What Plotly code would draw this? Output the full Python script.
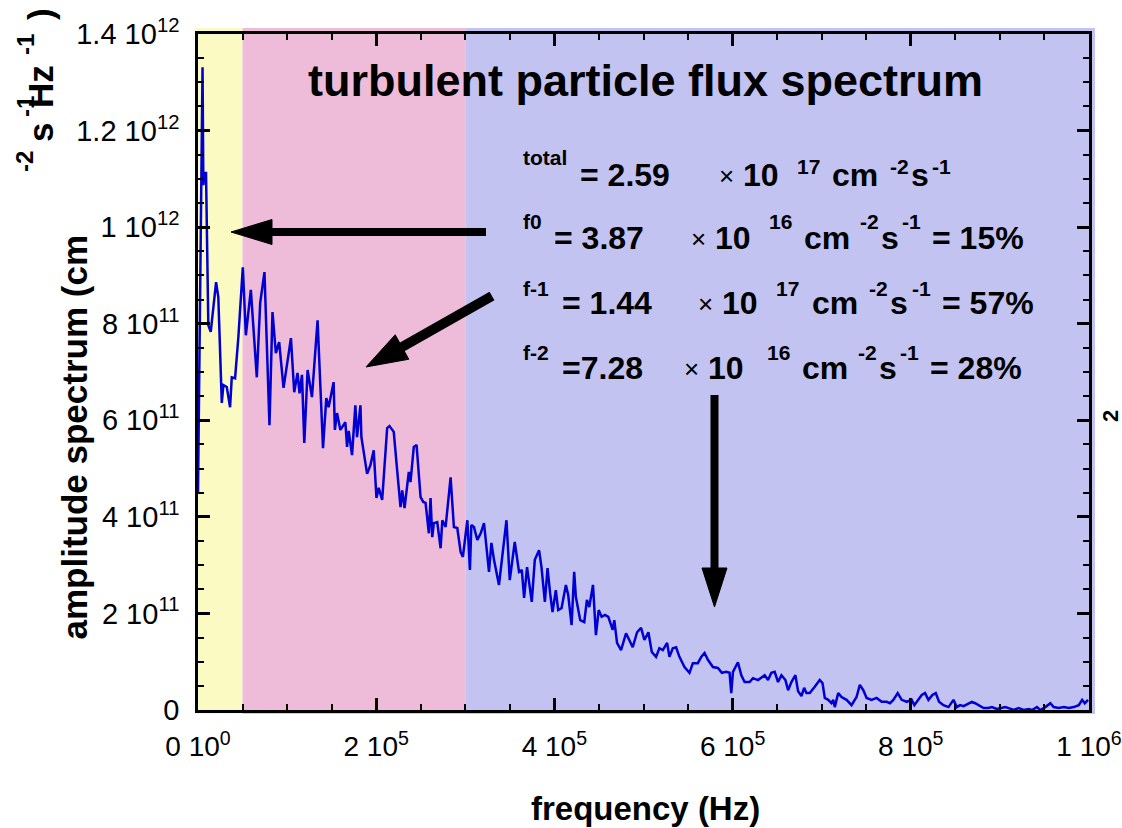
import plotly.graph_objects as go

# ---------------- data ----------------
freq_khz = [
    0, 5.1, 6.0, 7.3, 9.0, 11.6, 14.3, 20.3, 22.8, 26.7,
    28.5, 32.3, 36.0, 37.9, 41.6, 45.3, 50.3, 53.7, 59.3, 66.0,
    69.8, 74.6, 80.2, 83.6, 87.4, 91.1, 96.0, 104.3, 108.0, 111.7,
    114.0, 116.7, 119.3, 123.0, 127.9, 134.2, 140.3, 144.0, 146.6, 152.2,
    153.6, 156.0, 159.8, 165.4, 167.3, 169.1, 172.9, 176.6, 178.5, 182.3,
    183.4, 189.8, 193.5, 197.2, 200.3, 202.8, 206.7, 212.3, 214.9, 219.7,
    223.5, 227.3, 229.2, 231.8, 236.6, 238.5, 242.2, 245.3, 249.8, 252.8,
    255.4, 259.1, 261.0, 262.9, 264.7, 268.5, 272.3, 274.2, 277.9, 283.5,
    287.2, 291.0, 294.8, 297.3, 302.3, 305.2, 306.8, 309.7, 313.5, 317.3,
    321.0, 326.6, 329.3, 332.2, 337.8, 346.2, 349.9, 355.5, 360.3, 363.4,
    366.0, 369.3, 374.6, 378.0, 382.8, 385.5, 389.3, 392.3, 395.2, 397.9,
    401.6, 404.2, 408.0, 412.9, 415.5, 419.3, 422.2, 424.1, 429.0, 433.5,
    436.5, 439.1, 443.3, 446.6, 449.7, 453.0, 456.8, 460.5, 465.4, 467.2,
    470.3, 474.8, 480.4, 484.1, 487.9, 492.8, 497.3, 501.0, 505.5, 509.3,
    514.1, 517.8, 521.7, 526.5, 529.1, 532.9, 536.6, 540.3, 546.0, 551.6,
    555.4, 561.0, 564.8, 568.5, 572.3, 577.9, 583.5, 588.0, 592.9, 596.6,
    598.5, 600.4, 606.0, 609.8, 613.5, 619.1, 622.9, 628.5, 632.3, 636.0,
    639.8, 643.5, 647.2, 651.0, 654.8, 659.3, 662.3, 666.0, 670.5, 673.5,
    677.3, 680.3, 682.9, 686.6, 692.2, 697.8, 700.9, 703.5, 707.3, 711.0,
    712.9, 714.7, 718.5, 722.3, 727.9, 733.5, 739.1, 742.8, 746.7, 750.4,
    756.0, 761.6, 767.3, 772.9, 776.6, 780.4, 785.3, 789.8, 795.4, 801.0,
    804.0, 808.5, 812.3, 816.0, 819.8, 824.3, 828.0, 831.7, 836.7, 842.3,
    847.9, 851.6, 855.3, 859.2, 864.8, 868.5, 872.2, 876.0, 881.7, 887.3,
    891.0, 896.6, 902.3, 906.0, 909.8, 915.4, 921.0, 926.7, 932.3, 936.0,
    941.6, 945.3, 951.0, 956.6, 960.4, 966.0, 971.7, 977.3, 982.9, 988.5,
    992.3, 995.3, 999.0,
]
amp_e11 = [
    4.51, 13.31, 10.87, 11.12, 11.12, 7.97, 7.83, 8.86, 8.55, 6.36,
    6.73, 6.69, 6.27, 6.89, 6.87, 7.72, 9.17, 7.76, 8.70, 6.89,
    8.43, 9.07, 5.90, 8.24, 7.39, 7.62, 6.67, 7.70, 6.58, 6.98,
    6.56, 6.94, 5.53, 7.04, 6.48, 8.07, 5.42, 6.46, 6.27, 6.79,
    5.80, 6.15, 5.80, 5.96, 5.45, 5.78, 5.28, 6.31, 5.65, 6.31,
    5.65, 4.89, 5.07, 5.38, 4.39, 4.60, 4.35, 5.84, 5.88, 5.76,
    4.97, 4.20, 4.55, 4.18, 4.93, 4.72, 5.45, 5.49, 4.41, 4.31,
    4.29, 3.66, 4.39, 3.58, 3.87, 3.89, 3.35, 3.93, 3.79, 4.82,
    3.79, 3.77, 3.27, 3.17, 3.93, 2.90, 3.83, 3.79, 3.52, 3.66,
    3.87, 2.86, 3.46, 3.11, 2.59, 3.93, 2.69, 3.48, 2.86, 2.90,
    2.32, 2.96, 2.24, 3.11, 3.31, 2.96, 2.24, 2.94, 2.42, 2.03,
    2.48, 2.07, 2.11, 2.59, 2.38, 1.76, 2.86, 2.34, 1.86, 1.82,
    2.28, 2.13, 2.59, 1.55, 2.07, 1.93, 1.97, 1.93, 1.66, 1.86,
    1.39, 1.24, 1.59, 1.45, 1.30, 1.61, 1.70, 1.45, 1.61, 1.20,
    1.10, 1.28, 1.24, 1.39, 1.10, 1.28, 1.30, 1.10, 0.89, 0.77,
    0.97, 0.97, 1.10, 1.18, 1.04, 0.89, 0.87, 0.77, 0.79, 0.77,
    0.35, 0.79, 0.99, 0.72, 0.58, 0.58, 0.66, 0.62, 0.68, 0.72,
    0.62, 0.77, 0.79, 0.58, 0.72, 0.62, 0.41, 0.58, 0.72, 0.39,
    0.29, 0.46, 0.35, 0.35, 0.48, 0.62, 0.56, 0.25, 0.21, 0.14,
    0.21, 0.06, 0.35, 0.27, 0.21, 0.10, 0.27, 0.52, 0.41, 0.25,
    0.21, 0.25, 0.17, 0.17, 0.14, 0.21, 0.35, 0.21, 0.17, 0.21,
    0.10, 0.21, 0.31, 0.35, 0.21, 0.31, 0.35, 0.17, 0.10, 0.06,
    0.21, 0.06, 0.10, 0.08, 0.14, 0.17, 0.14, 0.10, 0.04, 0.04,
    0.06, 0.02, 0.04, 0.06, 0.04, 0.00, 0.04, 0.00, 0.02, 0.00,
    0.06, 0.00, 0.06, 0.14, 0.06, 0.04, 0.06, 0.04, 0.06, 0.10,
    0.21, 0.14, 0.21,
]

x_tick_vals = [0, 2e5, 4e5, 6e5, 8e5, 1e6]
x_tick_text = ["0 10<sup>0</sup>", "2 10<sup>5</sup>", "4 10<sup>5</sup>",
               "6 10<sup>5</sup>", "8 10<sup>5</sup>", "1 10<sup>6</sup>"]
x_minor_vals = [5e4 * k for k in range(21)]
y_tick_vals = [0, 2e11, 4e11, 6e11, 8e11, 1e12, 1.2e12, 1.4e12]
y_tick_text = ["0", "2 10<sup>11</sup>", "4 10<sup>11</sup>", "6 10<sup>11</sup>",
               "8 10<sup>11</sup>", "1 10<sup>12</sup>", "1.2 10<sup>12</sup>",
               "1.4 10<sup>12</sup>"]
y_minor_vals = [5e10 * k for k in range(29)]

band_edges_hz = [0, 5e4, 3e5, 1e6]
band_colors = ["#FAFAC2", "#EEBCD8", "#C3C3F2"]

flux_labels = ["total", "f0", "f-1", "f-2"]
flux_values = ["= 2.59", "= 3.87", "= 1.44", "=7.28"]
flux_exps = ["17", "16", "17", "16"]
flux_pcts = ["", "= 15%", "= 57%", "= 28%"]

title_text = "turbulent particle flux spectrum"
x_title = "frequency (Hz)"
y_title_main = "amplitude spectrum (cm"
# remaining unit pieces of the y title: (text, is_superscript)
y_title_units = [("-2", True), ("s", False), ("-1", True), ("Hz", False),
                 ("-1", True), (")", False)]

# ---------------- layout helpers ----------------
W, H = 1122, 828
L, R, T, B = 198, 1089, 34, 710
PW, PH = R - L, B - T
FONT = "Liberation Sans, Arial, sans-serif"


def px(x):
    return (x - L) / PW


def py(y):
    return (B - y) / PH


freq_hz = [f * 1e3 for f in freq_khz]
amp = [a * 1e11 for a in amp_e11]

fig = go.Figure()
fig.add_trace(go.Scatter(x=freq_hz, y=amp, mode="lines",
                         line=dict(color="#0000D2", width=2.5),
                         showlegend=False, hoverinfo="skip"))

shapes = []
for i, c in enumerate(band_colors):
    x0 = band_edges_hz[i] / 1e6
    x1 = band_edges_hz[i + 1] / 1e6
    if i == 0:
        x0 = px(195)
    if i == len(band_colors) - 1:
        x1 = px(1095)
    shapes.append(dict(type="rect", xref="paper", yref="paper", x0=x0, x1=x1,
                       y0=py(714), y1=py(28), fillcolor=c, line=dict(width=0),
                       layer="below"))


# arrows (shaft + triangular head) in pixel positions
def arrow(tail, base, tip, half, width=8):
    (tx, ty), (bx, by), (hx, hy) = tail, base, tip
    dx, dy = hx - bx, hy - by
    n = (dx * dx + dy * dy) ** 0.5
    nx, ny = -dy / n, dx / n
    shapes.append(dict(type="line", xref="paper", yref="paper",
                       x0=px(tx), y0=py(ty), x1=px(bx), y1=py(by),
                       line=dict(color="black", width=width), layer="above"))
    p1 = (bx + nx * half, by + ny * half)
    p2 = (bx - nx * half, by - ny * half)
    path = "M {:.5f},{:.5f} L {:.5f},{:.5f} L {:.5f},{:.5f} Z".format(
        px(hx), py(hy), px(p1[0]), py(p1[1]), px(p2[0]), py(p2[1]))
    shapes.append(dict(type="path", xref="paper", yref="paper", path=path,
                       fillcolor="black", line=dict(color="black", width=1),
                       layer="above"))


arrow((486, 232), (272, 232), (231, 232), 12.5)
arrow((492, 296), (402, 347), (366, 367), 14, width=10)
arrow((714.5, 395), (714.5, 568), (714.5, 607), 12.5)

ann = []


def text(x, y, s, size, bold=True, xanchor="left", yanchor="middle", angle=0):
    ann.append(dict(xref="paper", yref="paper", x=px(x), y=py(y),
                    text=("<b>%s</b>" % s) if bold else s, showarrow=False,
                    xanchor=xanchor, yanchor=yanchor, textangle=angle,
                    font=dict(family=FONT, size=size, color="black")))


text(645, 80, title_text, 45, xanchor="center")
text(645, 808, x_title, 33, xanchor="center")
text(74, 642, y_title_main, 35, xanchor="center", yanchor="bottom", angle=-90)
unit_y = [162, 133, 107, 87, 45, 14]
for (s, sup), yy in zip(y_title_units, unit_y):
    if sup:
        text(25, yy, s, 24, xanchor="center", angle=-90)
    else:
        text(40, yy, s, 35, xanchor="center", angle=-90)
text(1110, 416, "2", 22, xanchor="center", angle=-90)

# flux lines: piece positions (pixels)
row_y = [175, 238, 303, 368]
lab_y = [157, 222, 288, 352]
exp_y = [166, 222, 288, 352]
val_x = [578, 552, 560, 560]
times_x = [717, 689, 696, 682]
ten_x = [741, 713, 720, 706]
exp_x = [795, 767, 774, 765]
cm_x = [830, 802, 810, 800]
m2_x = [888, 858, 867, 856]
s_x = [909, 879, 888, 877]
m1_x = [930, 900, 910, 898]
pct_x = [0, 930, 940, 928]
for i in range(4):
    y = row_y[i]
    text(521, lab_y[i], flux_labels[i], 21)
    text(val_x[i], y, flux_values[i], 32)
    text(times_x[i], y + 1, "×", 26, bold=False)
    text(ten_x[i], y, "10", 32)
    text(exp_x[i], exp_y[i], flux_exps[i], 21)
    text(cm_x[i], y, "cm", 32)
    text(m2_x[i], exp_y[i], "-2", 21)
    text(s_x[i], y, "s", 32)
    text(m1_x[i], exp_y[i], "-1", 21)
    if flux_pcts[i]:
        text(pct_x[i], y, flux_pcts[i], 32)

axis_common = dict(showgrid=False, zeroline=False, showline=True,
                   linecolor="black", linewidth=2.5, mirror="ticks",
                   ticks="inside", ticklen=12, tickwidth=2.5, tickcolor="black",
                   tickmode="array", automargin=False)

fig.update_layout(
    width=W, height=H, autosize=False,
    margin=dict(l=L, r=W - R, t=T, b=H - B, pad=0),
    paper_bgcolor="white", plot_bgcolor="rgba(0,0,0,0)",
    shapes=shapes, annotations=ann, showlegend=False,
    xaxis=dict(range=[0, 1e6], tickvals=x_tick_vals, ticktext=x_tick_text,
               tickfont=dict(family=FONT, size=28, color="black"),
               ticklabelstandoff=10,
               minor=dict(tickmode="array", tickvals=x_minor_vals, ticks="inside",
                          ticklen=6, tickwidth=2, tickcolor="black"),
               **axis_common),
    yaxis=dict(range=[0, 1.4e12], tickvals=y_tick_vals, ticktext=y_tick_text,
               tickfont=dict(family=FONT, size=29, color="black"),
               ticklabelstandoff=10,
               minor=dict(tickmode="array", tickvals=y_minor_vals, ticks="inside",
                          ticklen=6, tickwidth=2, tickcolor="black"),
               **axis_common),
)

fig.write_html("out.html")
